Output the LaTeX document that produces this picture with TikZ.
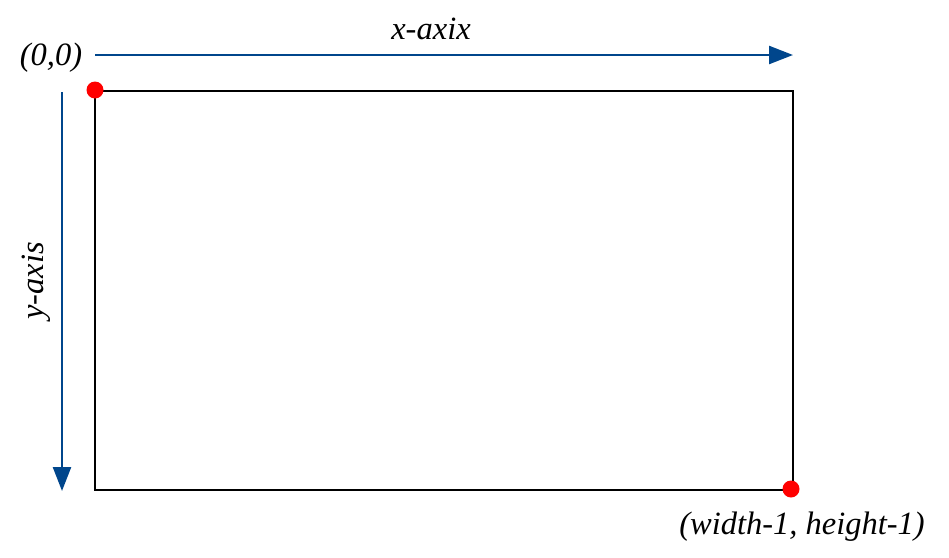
\documentclass[tikz,border=0pt]{standalone}
\usepackage{fontspec}
\setmainfont{Liberation Serif}
\usetikzlibrary{arrows.meta}
\definecolor{axisblue}{RGB}{0,70,140}
\begin{document}
\begin{tikzpicture}[x=1pt,y=-1pt,
  axisarrow/.style={draw=axisblue,line width=2.4pt,-{Triangle[length=24pt,width=18pt]}},
  frame/.style={draw=black,line width=1.8pt},
  dot/.style={circle,fill=red,inner sep=0pt,minimum size=17pt},
  lbl/.style={font=\fontsize{32.5}{36}\selectfont\itshape,inner sep=0pt}]
\useasboundingbox (0,0) rectangle (949,557);
\coordinate (tl) at (95,91);
\coordinate (br) at (793,490);
\draw[frame] (tl) rectangle (br);
\coordinate (xs) at (95,55);
\coordinate (xe) at (793,55);
\coordinate (ys) at (62,92);
\coordinate (ye) at (62,491);
\draw[axisarrow] (xs) -- (xe);
\draw[axisarrow] (ys) -- (ye);
\node[dot] (d1) at (95,90) {};
\node[dot] (d2) at (791,489) {};
\node[lbl] (o) at (51,58) {(0,0)};
\node[lbl] (xl) at (431,29) {x-axix};
\node[lbl,rotate=90] (yl) at (36,281) {y-axis};
\node[lbl] (wh) at (802,527) {(width-1, height-1)};
\end{tikzpicture}
\end{document}
